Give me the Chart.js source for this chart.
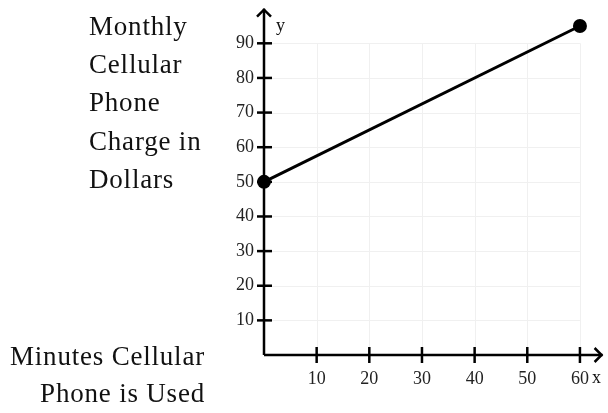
<!DOCTYPE html>
<html>
<head>
<meta charset="utf-8">
<script src="https://cdn.jsdelivr.net/npm/chart.js@4.4.0/dist/chart.umd.min.js"></script>
<style>
  html, body { margin: 0; padding: 0; background: #fff; }
  #wrap { position: relative; width: 608px; height: 413px; }
</style>
</head>
<body>
<div id="wrap"><canvas id="phoneChart"></canvas></div>
<script>
// minutes used vs. monthly charge
const minutes = [0, 60];
const charge = [50, 95];
const xTicks = [10, 20, 30, 40, 50, 60];
const yTicks = [10, 20, 30, 40, 50, 60, 70, 80, 90];
const yTitle = ['Monthly', 'Cellular', 'Phone', 'Charge in', 'Dollars'];
const xTitle = ['Minutes Cellular', 'Phone is Used'];

const SERIF = '"Liberation Serif", "Times New Roman", serif';

// grid, axes with arrows, tick marks and the side titles
const axesPlugin = {
  id: 'axesPlugin',
  beforeDatasetsDraw(chart) {
    const { ctx, scales: { x, y } } = chart;
    const x0 = x.getPixelForValue(0), x60 = x.getPixelForValue(60);
    const y0 = y.getPixelForValue(0), y90 = y.getPixelForValue(90);
    ctx.save();
    // faint grid
    ctx.strokeStyle = '#f0f0f0';
    ctx.lineWidth = 1;
    xTicks.forEach(v => {
      const px = Math.round(x.getPixelForValue(v)) + 0.5;
      ctx.beginPath(); ctx.moveTo(px, y0); ctx.lineTo(px, y90); ctx.stroke();
    });
    yTicks.forEach(v => {
      const py = Math.round(y.getPixelForValue(v)) + 0.5;
      ctx.beginPath(); ctx.moveTo(x0, py); ctx.lineTo(x60, py); ctx.stroke();
    });
    // axes, running a little past the last ticks
    ctx.strokeStyle = '#000';
    ctx.lineWidth = 2.5;
    const top = y.getPixelForValue(100), right = x.getPixelForValue(64.3);
    ctx.beginPath(); ctx.moveTo(x0, y0); ctx.lineTo(x0, top); ctx.stroke();
    ctx.beginPath(); ctx.moveTo(x0, y0); ctx.lineTo(right, y0); ctx.stroke();
    // arrow heads
    ctx.lineJoin = 'miter';
    ctx.beginPath(); ctx.moveTo(x0 - 7, top + 8); ctx.lineTo(x0, top + 1); ctx.lineTo(x0 + 7, top + 8); ctx.stroke();
    ctx.beginPath(); ctx.moveTo(right - 8, y0 - 7); ctx.lineTo(right - 1, y0); ctx.lineTo(right - 8, y0 + 7); ctx.stroke();
    // tick marks
    xTicks.forEach(v => {
      const px = x.getPixelForValue(v);
      ctx.beginPath(); ctx.moveTo(px, y0 - 8); ctx.lineTo(px, y0 + 8); ctx.stroke();
    });
    yTicks.forEach(v => {
      const py = y.getPixelForValue(v);
      ctx.beginPath(); ctx.moveTo(x0 - 7, py); ctx.lineTo(x0 + 8, py); ctx.stroke();
    });
    ctx.restore();
  },
  afterDraw(chart) {
    const { ctx, scales: { x } } = chart;
    ctx.save();
    ctx.fillStyle = '#111';
    // axis letters
    ctx.font = '18px ' + SERIF;
    ctx.textBaseline = 'alphabetic';
    ctx.textAlign = 'left';
    ctx.fillText('y', x.getPixelForValue(0) + 12, 31);
    ctx.fillText('x', x.getPixelForValue(60) + 12, 383);
    // titles
    ctx.font = '27px ' + SERIF;
    ctx.letterSpacing = '0.8px';
    yTitle.forEach((t, i) => ctx.fillText(t, 89, 35 + i * 38.2));
    ctx.textAlign = 'right';
    xTitle.forEach((t, i) => ctx.fillText(t, 205, 365 + i * 37));
    ctx.restore();
  }
};

const ctx = document.getElementById('phoneChart').getContext('2d');
new Chart(ctx, {
  type: 'line',
  data: {
    datasets: [{
      data: minutes.map((m, i) => ({ x: m, y: charge[i] })),
      borderColor: '#000',
      borderWidth: 3,
      pointRadius: 7,
      pointBackgroundColor: '#000',
      pointBorderWidth: 0,
      fill: false,
      tension: 0,
      clip: false
    }]
  },
  options: {
    responsive: true,
    maintainAspectRatio: false,
    animation: false,
    layout: { padding: { left: 0, right: 6, top: 0, bottom: 0 } },
    plugins: { legend: { display: false }, tooltip: { enabled: false } },
    scales: {
      x: {
        type: 'linear',
        min: 0,
        max: 64,
        grid: { display: false, drawTicks: false },
        border: { display: false },
        afterFit: s => { s.height = 58; },
        ticks: {
          stepSize: 10,
          includeBounds: false,
          padding: 13,
          color: '#222',
          font: { family: SERIF, size: 18 },
          maxRotation: 0,
          callback: v => (v > 0 && v <= 60 ? v : '')
        }
      },
      y: {
        type: 'linear',
        min: 0,
        max: 96.5,
        grid: { display: false, drawTicks: false },
        border: { display: false },
        afterFit: s => { s.width = 264; },
        ticks: {
          stepSize: 10,
          includeBounds: false,
          padding: 10,
          color: '#222',
          font: { family: SERIF, size: 18 },
          callback: v => (v > 0 && v <= 90 ? v : '')
        }
      }
    }
  },
  plugins: [axesPlugin]
});
</script>
</body>
</html>
